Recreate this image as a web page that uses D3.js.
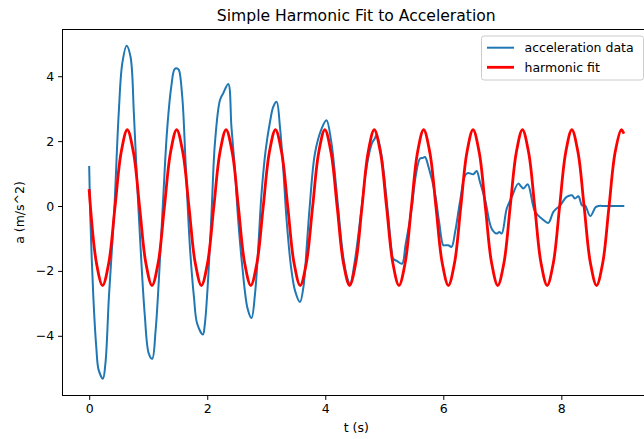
<!DOCTYPE html>
<html>
<head>
<meta charset="utf-8">
<script src="https://cdn.jsdelivr.net/npm/d3@7"></script>
<style>
  body { margin: 0; background: #fff; }
  svg { display: block; font-family: "DejaVu Sans", sans-serif; }
</style>
</head>
<body>
<svg id="chart" width="644" height="439"></svg>
<script>
// ---- data ----
const title = "Simple Harmonic Fit to Acceleration";
const xLabel = "t (s)";
const yLabel = "a (m/s^2)";
const seriesNames = ["acceleration data", "harmonic fit"];
const xTicks = [0, 2, 4, 6, 8];
const yTicks = [-4, -2, 0, 2, 4];
const xLimits = [-0.4525, 9.5025];
const yLimits = [-5.84, 5.44];

// measured acceleration
const accT = [0, 0.02, 0.07, 0.12, 0.16, 0.232, 0.275, 0.334, 0.42, 0.50, 0.56, 0.634, 0.70, 0.757, 0.81, 0.87, 0.94, 1.01, 1.068, 1.125, 1.18, 1.255, 1.32, 1.39, 1.447, 1.49, 1.52, 1.577, 1.634, 1.707, 1.775, 1.83, 1.927, 1.96, 2.017, 2.075, 2.13, 2.215, 2.27, 2.356, 2.41, 2.47, 2.525, 2.595, 2.685, 2.75, 2.81, 2.865, 2.92, 2.99, 3.063, 3.12, 3.176, 3.232, 3.29, 3.345, 3.42, 3.486, 3.571, 3.63, 3.685, 3.74, 3.825, 3.94, 4.02, 4.1, 4.2, 4.3, 4.37, 4.42, 4.5, 4.6, 4.7, 4.79, 4.84, 4.87, 4.95, 5.05, 5.12, 5.15, 5.22, 5.30, 5.36, 5.46, 5.53, 5.605, 5.65, 5.69, 5.75, 5.86, 5.93, 6.0, 6.03, 6.085, 6.14, 6.2, 6.28, 6.37, 6.42, 6.51, 6.565, 6.62, 6.71, 6.82, 6.905, 6.95, 6.99, 7.075, 7.16, 7.27, 7.32, 7.36, 7.43, 7.555, 7.67, 7.78, 7.865, 7.98, 8.09, 8.18, 8.23, 8.29, 8.35, 8.40, 8.49, 8.58, 8.63, 8.75, 9.05];
const accV = [1.2, -0.4, -2.8, -4.35, -5.05, -5.32, -4.85, -2.8, -0.3, 2.85, 4.39, 4.94, 4.6, 2.85, 0.79, -1.27, -3.32, -4.55, -4.71, -3.84, -2.29, 0.28, 2.34, 3.67, 4.22, 4.24, 4.19, 3.36, 1.31, -1.27, -2.81, -3.63, -3.96, -3.63, -2.19, -0.13, 1.93, 3.26, 3.47, 3.76, 2.44, 1.1, -0.44, -1.88, -3.17, -3.45, -2.7, -1.27, 0.38, 1.72, 2.59, 3.06, 3.21, 2.44, 1.1, -0.44, -1.88, -2.6, -2.96, -2.5, -1.27, 0.07, 1.62, 2.39, 2.64, 2.0, 0.3, -1.5, -2.2, -2.4, -1.7, -0.3, 1.2, 1.93, 2.08, 2.2, 1.6, 0.0, -1.3, -1.62, -1.7, -1.78, -1.2, -0.13, 0.9, 1.46, 1.48, 1.51, 1.2, 0.38, -0.5, -1.21, -1.21, -1.21, -1.26, -0.8, 0.1, 0.95, 1.02, 0.98, 1.08, 0.75, 0.18, -0.70, -0.85, -0.80, -0.85, -0.08, 0.28, 0.69, 0.6, 0.54, 0.67, -0.18, -0.39, -0.52, -0.18, 0.02, 0.28, 0.33, 0.23, 0.30, 0.02, 0.02, -0.31, -0.04, 0.0, 0.0, 0.0];

// harmonic fit, read every eighth of a period (troughs, peaks and between)
const fitT = [0, 0.122, 0.227, 0.332, 0.436, 0.541, 0.645, 0.750, 0.855, 0.959, 1.064, 1.169, 1.273, 1.378, 1.482, 1.587, 1.692, 1.796, 1.901, 2.006, 2.110, 2.215, 2.319, 2.424, 2.529, 2.633, 2.738, 2.843, 2.947, 3.052, 3.156, 3.261, 3.366, 3.470, 3.575, 3.680, 3.784, 3.889, 3.993, 4.098, 4.203, 4.307, 4.412, 4.517, 4.621, 4.726, 4.830, 4.935, 5.040, 5.144, 5.249, 5.354, 5.458, 5.563, 5.667, 5.772, 5.877, 5.981, 6.086, 6.191, 6.295, 6.400, 6.504, 6.609, 6.714, 6.818, 6.923, 7.028, 7.132, 7.237, 7.341, 7.446, 7.551, 7.655, 7.760, 7.865, 7.969, 8.074, 8.178, 8.283, 8.388, 8.492, 8.597, 8.702, 8.806, 8.911, 9.015, 9.05];
const fitV = [0.48, -1.75,
  -2.45, -1.75, -0.05, 1.65, 2.35, 1.65, -0.05, -1.75,
  -2.45, -1.75, -0.05, 1.65, 2.35, 1.65, -0.05, -1.75,
  -2.45, -1.75, -0.05, 1.65, 2.35, 1.65, -0.05, -1.75,
  -2.45, -1.75, -0.05, 1.65, 2.35, 1.65, -0.05, -1.75,
  -2.45, -1.75, -0.05, 1.65, 2.35, 1.65, -0.05, -1.75,
  -2.45, -1.75, -0.05, 1.65, 2.35, 1.65, -0.05, -1.75,
  -2.45, -1.75, -0.05, 1.65, 2.35, 1.65, -0.05, -1.75,
  -2.45, -1.75, -0.05, 1.65, 2.35, 1.65, -0.05, -1.75,
  -2.45, -1.75, -0.05, 1.65, 2.35, 1.65, -0.05, -1.75,
  -2.45, -1.75, -0.05, 1.65, 2.35, 1.65, -0.05, -1.75,
  -2.45, -1.75, -0.05, 1.65, 2.35, 2.27];

const colors = ["#1f77b4", "#ff0000"];
const widths = [2.0, 2.8];

// ---- layout ----
const svg = d3.select("#chart");
const L = 62.5, T = 29.5, R = 650, B = 395.5;
const x = d3.scaleLinear().domain(xLimits).range([L, R]);
const y = d3.scaleLinear().domain(yLimits).range([B, T]);

const fontTick = 12.5;
svg.append("defs").append("clipPath").attr("id", "clip")
  .append("rect").attr("x", L).attr("y", T).attr("width", R - L).attr("height", B - T);

const plot = svg.append("g").attr("clip-path", "url(#clip)");

const acc = accT.map((t, i) => [t, accV[i]]);
const fit = fitT.map((t, i) => [t, fitV[i]]);

plot.append("path").datum(acc)
  .attr("fill", "none").attr("stroke", colors[0]).attr("stroke-width", widths[0])
  .attr("stroke-linejoin", "round").attr("stroke-linecap", "square")
  .attr("d", d3.line().x(d => x(d[0])).y(d => y(d[1])).curve(d3.curveCatmullRom.alpha(0.5)));

plot.append("path").datum(fit)
  .attr("fill", "none").attr("stroke", colors[1]).attr("stroke-width", widths[1])
  .attr("stroke-linejoin", "round").attr("stroke-linecap", "square")
  .attr("d", d3.line().x(d => x(d[0])).y(d => y(d[1])).curve(d3.curveCatmullRom.alpha(0.5)));

// axes
const fmt = d => (d < 0 ? "\u2212" + Math.abs(d) : String(d));
const xAxis = svg.append("g").attr("transform", `translate(0,${B})`)
  .call(d3.axisBottom(x).tickValues(xTicks).tickFormat(fmt).tickSizeOuter(0).tickSize(4.4).tickPadding(4));
const yAxis = svg.append("g").attr("transform", `translate(${L},0)`)
  .call(d3.axisLeft(y).tickValues(yTicks).tickFormat(fmt).tickSizeOuter(0).tickSize(4.4).tickPadding(4));
[xAxis, yAxis].forEach(g => {
  g.select(".domain").remove();
  g.selectAll("line").attr("stroke", "#000").attr("stroke-width", 1);
  g.selectAll("text").attr("font-family", "DejaVu Sans").attr("font-size", fontTick).attr("fill", "#000");
});

// spines
svg.append("rect").attr("x", L).attr("y", T).attr("width", R - L).attr("height", B - T)
  .attr("fill", "none").attr("stroke", "#000").attr("stroke-width", 1);

// title & labels
svg.append("text").attr("x", (L + R) / 2).attr("y", 21).attr("text-anchor", "middle")
  .attr("font-size", 15.6).attr("fill", "#000").text(title);
svg.append("text").attr("x", (L + R) / 2).attr("y", 432).attr("text-anchor", "middle")
  .attr("font-size", fontTick).attr("fill", "#000").text(xLabel);
svg.append("text").attr("transform", `translate(24,${(T + B) / 2}) rotate(-90)`)
  .attr("text-anchor", "middle").attr("font-size", fontTick).attr("fill", "#000").text(yLabel);

// legend
const lg = svg.append("g");
lg.append("rect").attr("x", 481.5).attr("y", 36).attr("width", 162).attr("height", 44).attr("rx", 2.5)
  .attr("fill", "#fff").attr("fill-opacity", 0.8).attr("stroke", "#cccccc").attr("stroke-width", 1);
seriesNames.forEach((name, i) => {
  const yy = 47.7 + i * 19.6;
  lg.append("line").attr("x1", 487).attr("x2", 514).attr("y1", yy).attr("y2", yy)
    .attr("stroke", colors[i]).attr("stroke-width", widths[i]);
  lg.append("text").attr("x", 524.5).attr("y", yy).attr("dy", "0.36em")
    .attr("font-size", fontTick).attr("fill", "#000").text(name);
});
</script>
</body>
</html>
